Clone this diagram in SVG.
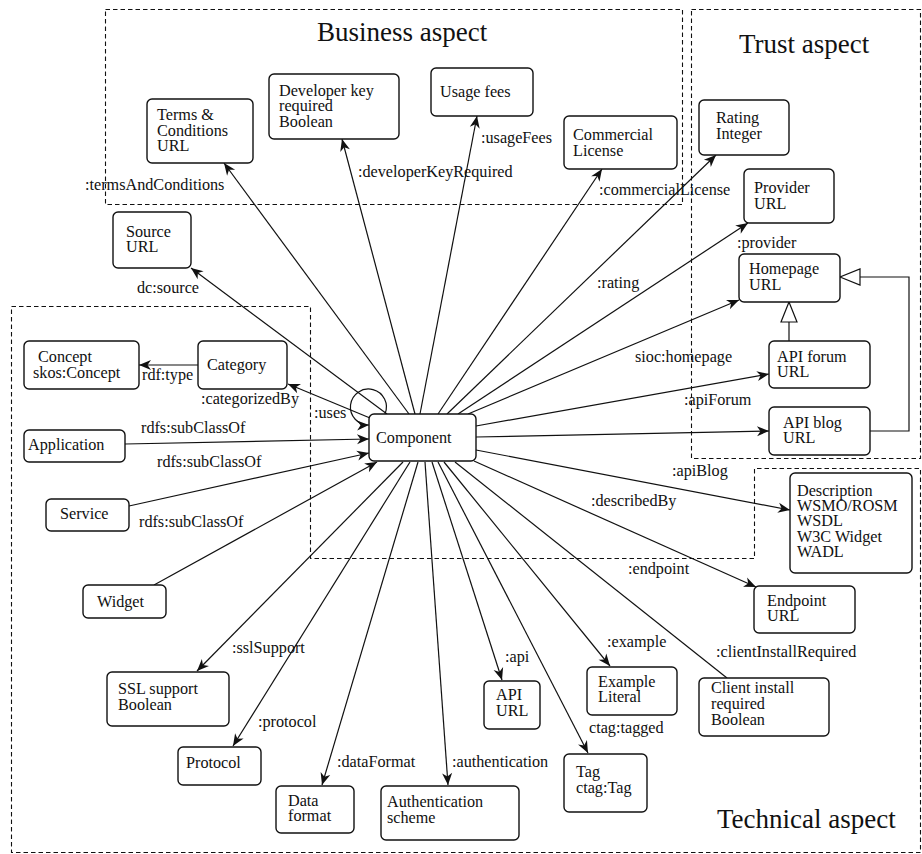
<svg xmlns="http://www.w3.org/2000/svg" width="922" height="854" viewBox="0 0 922 854" font-family="Liberation Serif, Times New Roman, DejaVu Serif, serif">
<style>
text{font-family:'Liberation Serif','Times New Roman',Times,'DejaVu Serif',serif;font-size:16.2px;fill:#111}
.title{font-size:27px}
.region{fill:none;stroke:#111;stroke-width:1.1;stroke-dasharray:4.5 3}
.node rect{fill:#fff;stroke:#111;stroke-width:1.4}
.edge{fill:none;stroke:#111;stroke-width:1.2}
.arr{marker-end:url(#ah)}
.gen{marker-end:url(#tri)}
</style>
<defs>
<marker id="ah" viewBox="-13 -7 14 14" refX="0" refY="0" markerWidth="14" markerHeight="14" markerUnits="userSpaceOnUse" orient="auto"><path d="M0,0 L-12,-5 L-8.5,0 L-12,5 Z" fill="#111"/></marker>
<marker id="tri" viewBox="-22 -10 23 20" refX="0" refY="0" markerWidth="23" markerHeight="20" markerUnits="userSpaceOnUse" orient="auto"><path d="M0,0 L-20,-8 L-20,8 Z" fill="#fff" stroke="#111" stroke-width="1.2"/></marker>
</defs>

<g id="regions">
<rect class="region" x="105.5" y="9.5" width="577" height="195"/>
<rect class="region" x="691.5" y="9.5" width="229" height="449"/>
<path class="region" d="M11.5,306.5 H310.5 V558.5 H754.5 V468.5 H920.5 V852.5 H11.5 Z"/>
<text class="title" x="317" y="41">Business aspect</text>
<text class="title" x="739" y="53">Trust aspect</text>
<text class="title" x="717" y="828">Technical aspect</text>
</g>

<g id="connectors">
<path class="edge arr" d="M387,414 L191,268"/>
<path class="edge arr" d="M409,414 L224,163"/>
<path class="edge arr" d="M415,414 L342,139"/>
<path class="edge arr" d="M420,414 L477,116"/>
<path class="edge arr" d="M438,414 L602,169"/>
<path class="edge arr" d="M447,414 L716,155"/>
<path class="edge arr" d="M458,414 L748,223"/>
<path class="edge arr" d="M468,414 L739,300"/>
<path class="edge arr" d="M476,426 L769,374"/>
<path class="edge arr" d="M476,437 L769,431"/>
<path class="edge arr" d="M476,450 L790,510"/>
<path class="edge arr" d="M474,461 L756,587"/>
<path class="edge" d="M455,462 L727,678"/>
<path class="edge arr" d="M444,462 L610,666"/>
<path class="edge arr" d="M438,462 L588,753"/>
<path class="edge arr" d="M432,462 L502,680"/>
<path class="edge arr" d="M425,462 L448,785"/>
<path class="edge arr" d="M418,462 L322,785"/>
<path class="edge arr" d="M410,462 L233,746"/>
<path class="edge arr" d="M403,462 L197,671"/>
<path class="edge arr" d="M154,585 L377,462"/>
<path class="edge arr" d="M129,506 L369,453"/>
<path class="edge arr" d="M125,444 L369,439"/>
<path class="edge arr" d="M370,418 L288,384"/>
<path class="edge arr" d="M198,365 L139,365"/>
<path class="edge arr" d="M385,414 A18,18 0 1 0 369,425"/>
<path class="edge gen" d="M789,341 L789,302"/>
<path class="edge gen" d="M870,431 L909,431 L909,277 L840,277"/>
<text x="85" y="190">:termsAndConditions</text>
<text x="358" y="177">:developerKeyRequired</text>
<text x="481" y="143">:usageFees</text>
<text x="599" y="195">:commercialLicense</text>
<text x="597" y="288">:rating</text>
<text x="737" y="248">:provider</text>
<text x="635" y="362">sioc:homepage</text>
<text x="684" y="405">:apiForum</text>
<text x="672" y="476">:apiBlog</text>
<text x="591" y="506">:describedBy</text>
<text x="628" y="574">:endpoint</text>
<text x="716" y="657">:clientInstallRequired</text>
<text x="607" y="647">:example</text>
<text x="589" y="733">ctag:tagged</text>
<text x="505" y="662">:api</text>
<text x="452" y="767">:authentication</text>
<text x="337" y="767">:dataFormat</text>
<text x="258" y="727">:protocol</text>
<text x="232" y="653">:sslSupport</text>
<text x="139" y="527">rdfs:subClassOf</text>
<text x="157" y="467">rdfs:subClassOf</text>
<text x="141" y="433">rdfs:subClassOf</text>
<text x="314" y="418">:uses</text>
<text x="201" y="404">:categorizedBy</text>
<text x="142" y="380">rdf:type</text>
<text x="137" y="293">dc:source</text>
</g>

<g id="terms" class="node"><rect x="147" y="99" width="106" height="64" rx="5"/><text x="157" y="120">Terms &amp;</text><text x="157" y="136">Conditions</text><text x="157" y="151">URL</text></g>
<g id="devkey" class="node"><rect x="269" y="74" width="130" height="65" rx="5"/><text x="279" y="96">Developer key</text><text x="279" y="111">required</text><text x="279" y="127">Boolean</text></g>
<g id="usage" class="node"><rect x="431" y="68" width="102" height="48" rx="5"/><text x="440" y="97">Usage fees</text></g>
<g id="commercial" class="node"><rect x="564" y="116" width="113" height="53" rx="5"/><text x="573" y="140">Commercial</text><text x="573" y="156">License</text></g>
<g id="rating" class="node"><rect x="699" y="100" width="90" height="55" rx="5"/><text x="716" y="123">Rating</text><text x="716" y="139">Integer</text></g>
<g id="provider" class="node"><rect x="744" y="169" width="90" height="54" rx="5"/><text x="754" y="193">Provider</text><text x="754" y="209">URL</text></g>
<g id="homepage" class="node"><rect x="739" y="254" width="101" height="48" rx="5"/><text x="749" y="274">Homepage</text><text x="749" y="290">URL</text></g>
<g id="apiforum" class="node"><rect x="769" y="341" width="101" height="47" rx="5"/><text x="777" y="362">API forum</text><text x="777" y="377">URL</text></g>
<g id="apiblog" class="node"><rect x="769" y="407" width="101" height="48" rx="5"/><text x="783" y="428">API blog</text><text x="783" y="443">URL</text></g>
<g id="source" class="node"><rect x="113" y="212" width="78" height="56" rx="5"/><text x="126" y="237">Source</text><text x="126" y="252">URL</text></g>
<g id="concept" class="node"><rect x="24" y="341" width="115" height="48" rx="5"/><text x="38" y="362">Concept</text><text x="33" y="378">skos:Concept</text></g>
<g id="category" class="node"><rect x="198" y="341" width="89" height="48" rx="5"/><text x="207" y="370">Category</text></g>
<g id="component" class="node"><rect x="369" y="414" width="107" height="47" rx="5"/><text x="376" y="443">Component</text></g>
<g id="application" class="node"><rect x="24" y="430" width="101" height="32" rx="5"/><text x="28" y="450">Application</text></g>
<g id="service" class="node"><rect x="46" y="499" width="83" height="32" rx="5"/><text x="60" y="519">Service</text></g>
<g id="widget" class="node"><rect x="83" y="585" width="83" height="33" rx="5"/><text x="97" y="607">Widget</text></g>
<g id="ssl" class="node"><rect x="107" y="672" width="122" height="54" rx="5"/><text x="118" y="694">SSL support</text><text x="118" y="710">Boolean</text></g>
<g id="protocol" class="node"><rect x="178" y="747" width="83" height="38" rx="5"/><text x="186" y="768">Protocol</text></g>
<g id="dataformat" class="node"><rect x="276" y="786" width="78" height="47" rx="5"/><text x="288" y="806">Data</text><text x="288" y="821">format</text></g>
<g id="auth" class="node"><rect x="381" y="786" width="138" height="54" rx="5"/><text x="387" y="807">Authentication</text><text x="387" y="823">scheme</text></g>
<g id="api" class="node"><rect x="484" y="681" width="56" height="48" rx="5"/><text x="496" y="700">API</text><text x="496" y="716">URL</text></g>
<g id="tag" class="node"><rect x="564" y="754" width="83" height="58" rx="5"/><text x="576" y="777">Tag</text><text x="576" y="793">ctag:Tag</text></g>
<g id="example" class="node"><rect x="587" y="667" width="90" height="48" rx="5"/><text x="598" y="687">Example</text><text x="598" y="702">Literal</text></g>
<g id="client" class="node"><rect x="699" y="678" width="130" height="58" rx="5"/><text x="711" y="693">Client install</text><text x="711" y="709">required</text><text x="711" y="725">Boolean</text></g>
<g id="endpoint" class="node"><rect x="754" y="586" width="101" height="47" rx="5"/><text x="767" y="606">Endpoint</text><text x="767" y="621">URL</text></g>
<g id="description" class="node"><rect x="790" y="473" width="122" height="100" rx="5"/><text x="797" y="496">Description</text><text x="797" y="511">WSMO/ROSM</text><text x="797" y="526">WSDL</text><text x="797" y="542">W3C Widget</text><text x="797" y="557">WADL</text></g>
</svg>
